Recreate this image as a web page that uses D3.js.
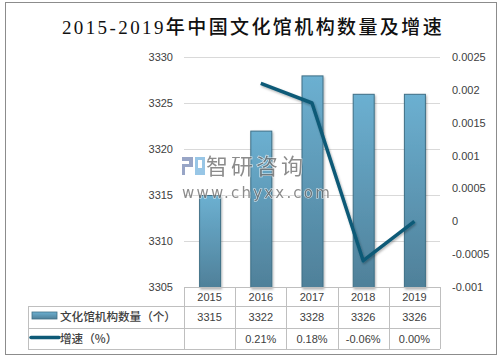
<!DOCTYPE html>
<html><head><meta charset="utf-8">
<script src="https://cdn.jsdelivr.net/npm/d3@7"></script>
<style>
body{margin:0;background:#fff;}
svg{display:block;}
</style>
</head><body>
<svg id="c" width="501" height="358"></svg>
<script>
const title = "2015-2019年中国文化馆机构数量及增速";
const years = ["2015","2016","2017","2018","2019"];
const counts = [3315, 3322, 3328, 3326, 3326];
const growth = [null, 0.0021, 0.0018, -0.0006, 0.0000];
const growthLabels = ["", "0.21%", "0.18%", "-0.06%", "0.00%"];
const leftTicks = [3305, 3310, 3315, 3320, 3325, 3330];
const rightTicks = [-0.001, -0.0005, 0, 0.0005, 0.001, 0.0015, 0.002, 0.0025];
const rightTickLabels = ["-0.001","-0.0005","0","0.0005","0.001","0.0015","0.002","0.0025"];
const seriesNames = ["文化馆机构数量（个）", "增速（%）"];

const svg = d3.select("#c");
const txt = "#404040";
const font = "'Liberation Sans', 'Noto Sans CJK SC', sans-serif";
const cjk = "'Noto Sans CJK SC', sans-serif";

// outer border
svg.append("rect").attr("x",5.5).attr("y",2.5).attr("width",491).attr("height",352)
  .attr("fill","#fff").attr("stroke","#8c8c8c").attr("stroke-width",1);

// title
svg.append("text").attr("x",253).attr("y",34).attr("text-anchor","middle")
  .attr("font-family","'Liberation Serif', 'Noto Sans CJK SC', serif")
  .attr("font-size",19).attr("letter-spacing",2.4).attr("fill","#111")
  .attr("font-weight",500)
  .text(title);

const x = d3.scaleBand().domain(years).range([184,440]);
const yL = d3.scaleLinear().domain([3305,3330]).range([287,57]);
const yR = d3.scaleLinear().domain([-0.001,0.0025]).range([287,57]);

const defs = svg.append("defs");
const g = defs.append("linearGradient").attr("id","barG").attr("x1",0).attr("y1",0).attr("x2",0).attr("y2",1);
g.append("stop").attr("offset","0%").attr("stop-color","#6cb0d1");
g.append("stop").attr("offset","100%").attr("stop-color","#4f8099");
const gl = defs.append("linearGradient").attr("id","legG").attr("x1",0).attr("y1",0).attr("x2",0).attr("y2",1);
gl.append("stop").attr("offset","0%").attr("stop-color","#6cb0d1");
gl.append("stop").attr("offset","100%").attr("stop-color","#4f8099");
const f = defs.append("filter").attr("id","sh").attr("x","-20%").attr("y","-20%").attr("width","140%").attr("height","140%");
f.append("feDropShadow").attr("dx",1).attr("dy",1.5).attr("stdDeviation",1).attr("flood-color","#000").attr("flood-opacity",0.3);

// gridlines
svg.append("g").selectAll("line").data(leftTicks.slice(1)).join("line")
  .attr("x1",184).attr("x2",440).attr("y1",d=>Math.round(yL(d))+0.5).attr("y2",d=>Math.round(yL(d))+0.5)
  .attr("stroke","#d9d9d9");

// left axis labels
svg.append("g").selectAll("text").data(leftTicks).join("text")
  .attr("x",173).attr("y",d=>yL(d)+4).attr("text-anchor","end")
  .attr("font-family",font).attr("font-size",11).attr("fill",txt).text(d=>d);
// right axis labels
svg.append("g").selectAll("text").data(rightTicks).join("text")
  .attr("x",452).attr("y",d=>yR(d)+4).attr("text-anchor","start")
  .attr("font-family",font).attr("font-size",11).attr("fill",txt).text((d,i)=>rightTickLabels[i]);

// bars
const bw = 21;
svg.append("g").selectAll("rect").data(counts).join("rect")
  .attr("x",(d,i)=>x(years[i])+x.bandwidth()/2-bw/2+0.5)
  .attr("y",d=>yL(d)+0.5)
  .attr("width",bw).attr("height",d=>287-yL(d))
  .attr("fill","url(#barG)").attr("stroke","#3f6f86").attr("stroke-width",1)
  .attr("filter","url(#sh)");

// watermark (over bars)
const wm = svg.append("g").attr("opacity",0.8);
wm.append("rect").attr("x",182).attr("y",157).attr("width",11).attr("height",4).attr("fill","#7f8fb8");
wm.append("rect").attr("x",189).attr("y",157).attr("width",4).attr("height",10).attr("fill","#7f8fb8");
wm.append("rect").attr("x",182).attr("y",164).attr("width",8).attr("height",3).attr("fill","#7f8fb8");
wm.append("rect").attr("x",182).attr("y",164).attr("width",3).attr("height",11).attr("fill","#7f8fb8");
wm.append("rect").attr("x",195).attr("y",157).attr("width",10).attr("height",18).attr("fill","#7fb9e0");
wm.append("rect").attr("x",198).attr("y",160).attr("width",4).attr("height",8).attr("fill","#fff");
wm.append("text").attr("x",206).attr("y",174).attr("font-family",cjk).attr("font-size",22)
  .attr("letter-spacing",3).attr("fill","#707070").attr("stroke","#fff").attr("stroke-width",1.2)
  .attr("paint-order","stroke").text("智研咨询");
wm.append("text").attr("x",182).attr("y",198).attr("font-family","'DejaVu Sans', sans-serif").attr("font-size",15)
  .attr("letter-spacing",2.2).attr("fill","#707070").attr("stroke","#fff").attr("stroke-width",1)
  .attr("paint-order","stroke").text("www.chyxx.com");

// line
const pts = growth.map((v,i)=>({v,i})).filter(d=>d.v!==null);
svg.append("path").datum(pts)
  .attr("d",d3.line().x(d=>x(years[d.i])+x.bandwidth()/2).y(d=>yR(d.v)))
  .attr("fill","none").attr("stroke","#0e5a77").attr("stroke-width",3.5)
  .attr("stroke-linejoin","round").attr("filter","url(#sh)");

// table
const tg = svg.append("g");
const tc = "#bfbfbf";
tg.append("line").attr("x1",184).attr("x2",440).attr("y1",287.5).attr("y2",287.5).attr("stroke",tc);
[306,328,349].forEach(yy=>tg.append("line").attr("x1",28).attr("x2",440).attr("y1",yy+0.5).attr("y2",yy+0.5).attr("stroke",tc));
const vx = years.map(y=>x(y)).concat([440]);
vx.forEach(xx=>tg.append("line").attr("x1",Math.round(xx)+0.5).attr("x2",Math.round(xx)+0.5).attr("y1",287).attr("y2",349).attr("stroke",tc));
tg.append("line").attr("x1",28.5).attr("x2",28.5).attr("y1",306).attr("y2",349).attr("stroke",tc);

tg.selectAll("text.yr").data(years).join("text").attr("class","yr")
  .attr("x",d=>x(d)+x.bandwidth()/2).attr("y",300.5).attr("text-anchor","middle")
  .attr("font-family",font).attr("font-size",11).attr("fill",txt).text(d=>d);
tg.selectAll("text.ct").data(counts).join("text").attr("class","ct")
  .attr("x",(d,i)=>x(years[i])+x.bandwidth()/2).attr("y",320.5).attr("text-anchor","middle")
  .attr("font-family",font).attr("font-size",11).attr("fill",txt).text(d=>d);
tg.selectAll("text.gr").data(growthLabels).join("text").attr("class","gr")
  .attr("x",(d,i)=>x(years[i])+x.bandwidth()/2).attr("y",342.5).attr("text-anchor","middle")
  .attr("font-family",font).attr("font-size",11).attr("fill",txt).text(d=>d);

tg.append("rect").attr("x",32).attr("y",312).attr("width",25).attr("height",7)
  .attr("fill","url(#legG)").attr("stroke","#3f6f86").attr("stroke-width",0.8);
tg.append("line").attr("x1",31).attr("x2",59).attr("y1",337.5).attr("y2",337.5)
  .attr("stroke","#0e5a77").attr("stroke-width",3.5).attr("stroke-linecap","round");
tg.append("text").attr("x",60).attr("y",321).attr("font-family",cjk).attr("font-size",11.6)
  .attr("fill",txt).attr("font-weight",500).text(seriesNames[0]);
tg.append("text").attr("x",60).attr("y",343).attr("font-family",cjk).attr("font-size",11.6)
  .attr("fill",txt).attr("font-weight",500).text(seriesNames[1]);
</script>
</body></html>
